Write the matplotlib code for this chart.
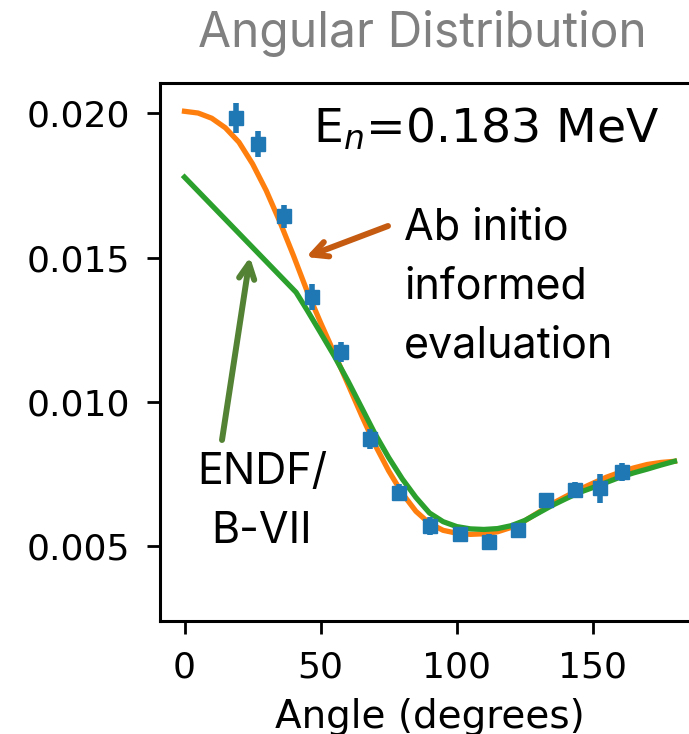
import matplotlib
matplotlib.use("Agg")
import matplotlib.pyplot as plt
import numpy as np

# Experimental data
exp_angle = [18.9, 27.0, 36.6, 46.9, 57.5, 68.2, 78.9, 90.3, 101.3, 111.9, 122.6, 132.9, 143.6, 152.8, 160.8]
exp_value = [0.01984, 0.01894, 0.01644, 0.01364, 0.01174, 0.00873, 0.00686, 0.00571, 0.00543, 0.00516, 0.00557, 0.00661, 0.00696, 0.00701, 0.00758]
exp_error = [0.00052, 0.00046, 0.00040, 0.00045, 0.00035, 0.00035, 0.00030, 0.00030, 0.00026, 0.00026, 0.00026, 0.00024, 0.00026, 0.00050, 0.00030]

# Ab initio informed evaluation
abi_angle = [0, 5, 10, 15, 20, 25, 30, 35, 40, 45, 50, 55, 60, 65, 70, 75, 80, 85, 90,
             95, 100, 105, 110, 115, 120, 125, 130, 135, 140, 145, 150, 155, 160, 165, 170, 175, 180]
abi_value = [0.02007, 0.02001, 0.01983, 0.01950, 0.01900, 0.01825, 0.01733, 0.01625, 0.01508,
             0.01385, 0.01275, 0.01170, 0.01063, 0.00955, 0.00852, 0.00762, 0.00684, 0.00622,
             0.00580, 0.00556, 0.00546, 0.00542, 0.00544, 0.00551, 0.00566, 0.00589, 0.00618,
             0.00648, 0.00673, 0.00697, 0.00719, 0.00740, 0.00757, 0.00772, 0.00784, 0.00791, 0.00795]

# ENDF/B-VII
endf_angle = [0, 41, 45, 50, 55, 60, 65, 70, 75, 80, 85, 90, 95, 100, 105, 110, 115, 120,
              125, 130, 135, 140, 145, 150, 155, 160, 165, 170, 175, 180]
endf_value = [0.01779, 0.01380, 0.01319, 0.01240, 0.01160, 0.01074, 0.00982, 0.00890, 0.00808,
              0.00734, 0.00670, 0.00616, 0.00586, 0.00569, 0.00561, 0.00559, 0.00562, 0.00572,
              0.00590, 0.00616, 0.00642, 0.00665, 0.00687, 0.00704, 0.00722, 0.00740, 0.00755,
              0.00768, 0.00782, 0.00795]

W, H = 689, 734
fig = plt.figure(figsize=(W / 100, H / 100), dpi=100)
ax = fig.add_axes([160 / W, (H - 621) / H, (699 - 160) / W, (621 - 83) / H])

ax.plot(abi_angle, abi_value, color="tab:orange", lw=3.8, zorder=2,
        solid_joinstyle="round")
ax.plot(endf_angle, endf_value, color="tab:green", lw=3.8, zorder=3,
        solid_joinstyle="round")
ax.errorbar(exp_angle, exp_value, yerr=exp_error, fmt="s", color="tab:blue",
            ms=10.5, elinewidth=4.0, capsize=0, zorder=4)

ax.set_xlim(-9, 189)
ax.set_ylim(0.00242, 0.02105)
ax.set_xticks([0, 50, 100, 150])
ax.set_yticks([0.005, 0.010, 0.015, 0.020])
ax.set_yticklabels(["0.005", "0.010", "0.015", "0.020"])
ax.tick_params(labelsize=26, length=9.2, width=2.0, pad=12)
for s in ax.spines.values():
    s.set_linewidth(2.2)
ax.set_xlabel("Angle (degrees)", fontsize=28, labelpad=10)

ann_font = "Inter"
fig.text(422 / W, 1 - 47 / H, "Angular Distribution", color="#808080",
         fontsize=34.5, family=ann_font, ha="center", va="baseline")
fig.text(313 / W, 1 - 143 / H, "E$_n$=0.183 MeV", fontsize=34,
         ha="left", va="baseline")

fig.text(404 / W, 1 - 357 / H, "Ab initio\ninformed\nevaluation", fontsize=31,
         family=ann_font, ha="left", va="baseline", linespacing=1.55,
         multialignment="left")
fig.text(262 / W, 1 - 543 / H, "ENDF/\nB-VII", fontsize=31, family=ann_font,
         ha="center", va="baseline", linespacing=1.55, multialignment="center")

ax.annotate("", xy=(306 / W, 1 - 257 / H), xycoords="figure fraction",
            xytext=(388 / W, 1 - 226 / H), textcoords="figure fraction",
            arrowprops=dict(arrowstyle="->,head_length=1.1,head_width=0.55",
                            color="#C55A11", lw=4.3, shrinkA=0, shrinkB=0,
                            capstyle="round", joinstyle="round"))
ax.annotate("", xy=(250 / W, 1 - 257 / H), xycoords="figure fraction",
            xytext=(222 / W, 1 - 440 / H), textcoords="figure fraction",
            arrowprops=dict(arrowstyle="->,head_length=1.1,head_width=0.55",
                            color="#548235", lw=4.3, shrinkA=0, shrinkB=0,
                            capstyle="round", joinstyle="round"))

fig.savefig("out.png", dpi=100)
